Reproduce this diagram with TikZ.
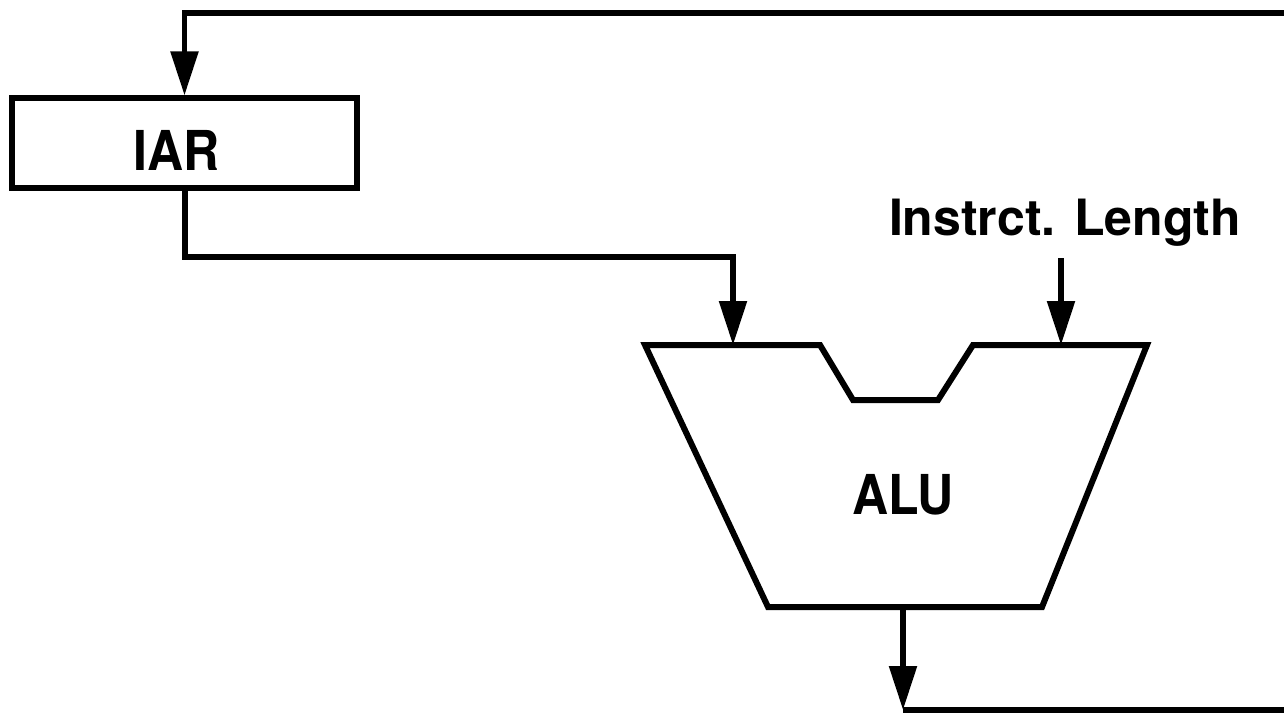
\documentclass[tikz,border=0pt]{standalone}
\usepackage{fontspec}
\setmainfont{TeX Gyre Heros}
\usetikzlibrary{arrows.meta}
\begin{document}
\begin{tikzpicture}[x=0.5pt,y=-0.5pt,
  wire/.style={line width=2.7pt},
  arr/.style={wire,-{Triangle[length=22pt,width=13.5pt]}},
  lbl/.style={font=\fontsize{25}{30}\selectfont\bfseries,inner sep=0pt},
  regbox/.style={draw,line width=2.6pt,minimum width=345*0.5pt,minimum height=90*0.5pt,inner sep=0pt}]
\useasboundingbox (0,0) rectangle (1284,713);
% IAR register
\node[regbox] (iar) at (184.5,143) {};
\node[lbl] (iarlbl) at (177,150) {\scalebox{1}[1.1]{IAR}};
% ALU outline
\coordinate (a1) at (645,345);
\coordinate (in1) at (733,345);
\coordinate (n1) at (820,345);
\coordinate (n2) at (853,400);
\coordinate (n3) at (938,400);
\coordinate (n4) at (973,345);
\coordinate (in2) at (1061,345);
\coordinate (a2) at (1147,345);
\coordinate (a3) at (1042,607);
\coordinate (out) at (903,607);
\coordinate (a4) at (768,607);
\draw[wire,line width=3pt,line join=miter] (a1) -- (n1) -- (n2) -- (n3) -- (n4) -- (a2) -- (a3) -- (a4) -- cycle;
\node[lbl] (alu) at (903,495) {\scalebox{1}[1.1]{ALU}};
% instruction length input
\node[lbl,anchor=base] (len) at (1065,235) {Instrct. Length};
\draw[arr] (len.south -| in2) ++(0,12) -- (in2);
% IAR to ALU
\coordinate (bend) at (185,257);
\draw[arr] (iar.south -| bend) -- (bend) -| (in1);
% feedback loop
\coordinate (rt) at (1284,13);
\coordinate (rb) at (1284,710);
\coordinate (ob) at (903,710);
\draw[arr] (rt) -| (iar.north);
\draw[arr] (out) -- (ob);
\draw[wire] (ob) -- (rb);
\end{tikzpicture}
\end{document}
